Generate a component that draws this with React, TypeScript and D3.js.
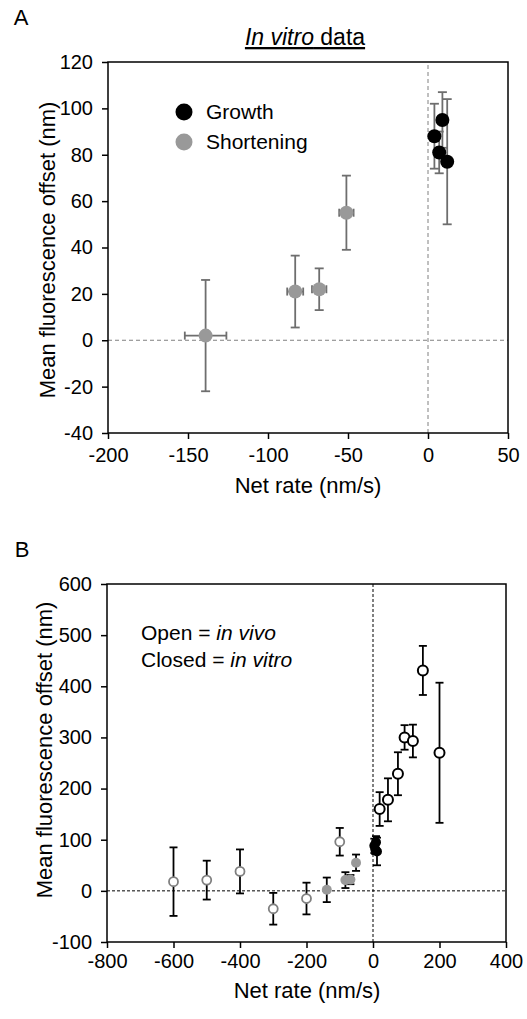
import React, { useRef, useEffect } from 'react';
import * as d3 from 'd3';

// in vitro, growth (closed black)
const GROWTH_RATE = [4, 9, 7, 12];
const GROWTH_OFFSET = [88, 95, 81, 77];
const GROWTH_ERR = [14, 12, 9, 27];

// in vitro, shortening (closed grey)
const SHORT_RATE = [-139, -83, -68, -51];
const SHORT_OFFSET = [2, 21, 22, 55];
const SHORT_ERR = [24, 15.5, 9, 16];
const SHORT_RATE_ERR = [13, 5, 4.5, 4.5];

// in vivo (open circles)
const VIVO_SHORT_RATE = [-600, -500, -400, -300, -200, -100];
const VIVO_SHORT_OFFSET = [18, 21, 38, -35, -15, 96];
const VIVO_SHORT_ERR = [67, 38, 43, 31, 31, 27];
const VIVO_GROWTH_RATE = [20, 45, 75, 95, 120, 150, 200];
const VIVO_GROWTH_OFFSET = [160, 178, 229, 300, 293, 431, 270];
const VIVO_GROWTH_ERR = [33, 42, 42, 24, 32, 48, 137];

const A_X_TICKS = [-200, -150, -100, -50, 0, 50];
const A_Y_TICKS = [-40, -20, 0, 20, 40, 60, 80, 100, 120];
const B_X_TICKS = [-800, -600, -400, -200, 0, 200, 400];
const B_Y_TICKS = [-100, 0, 100, 200, 300, 400, 500, 600];

const FONT = "'Liberation Sans', Arial, sans-serif";
const GREY_DOT = '#999999';
const GREY_BAR = '#6e6e6e';

const App = () => {
    const svgRef = useRef(null);

    useEffect(() => {
        const svg = d3.select(svgRef.current);
        svg.selectAll('*').remove();

        const drawFrame = (g, x, y, xTicks, yTicks, dashColor, dash, xPad) => {
            const [x0, x1] = x.range();
            const [y0, y1] = y.range();

            // zero lines
            g.append('line')
                .attr('x1', x0).attr('x2', x1)
                .attr('y1', y(0)).attr('y2', y(0))
                .attr('stroke', dashColor).attr('stroke-width', 1)
                .attr('stroke-dasharray', dash);
            g.append('line')
                .attr('x1', x(0)).attr('x2', x(0))
                .attr('y1', y0).attr('y2', y1)
                .attr('stroke', dashColor).attr('stroke-width', 1)
                .attr('stroke-dasharray', dash);

            // plain hyphen for negatives, like the original
            const fmt = d => String(d);
            const xAxis = g.append('g')
                .attr('transform', `translate(0,${y0})`)
                .call(d3.axisBottom(x).tickValues(xTicks).tickFormat(fmt).tickSize(6).tickPadding(xPad).tickSizeOuter(0));
            const yAxis = g.append('g')
                .attr('transform', `translate(${x0},0)`)
                .call(d3.axisLeft(y).tickValues(yTicks).tickFormat(fmt).tickSize(6).tickPadding(9).tickSizeOuter(0));

            [xAxis, yAxis].forEach(ax => {
                ax.select('.domain').remove();
                ax.attr('font-family', FONT).attr('font-size', 20);
                ax.selectAll('line').attr('stroke', '#000').attr('stroke-width', 1.5);
                ax.selectAll('text').attr('fill', '#000');
            });

            g.append('rect')
                .attr('x', x0).attr('y', y1)
                .attr('width', x1 - x0).attr('height', y0 - y1)
                .attr('fill', 'none').attr('stroke', '#000').attr('stroke-width', 1.5);
        };

        const drawErrY = (g, x, y, rates, vals, errs, color, cap) => {
            rates.forEach((r, i) => {
                const cx = x(r);
                const top = y(vals[i] + errs[i]);
                const bot = y(vals[i] - errs[i]);
                g.append('line').attr('x1', cx).attr('x2', cx).attr('y1', top).attr('y2', bot)
                    .attr('stroke', color).attr('stroke-width', 1.8);
                [top, bot].forEach(yy => {
                    g.append('line').attr('x1', cx - cap).attr('x2', cx + cap).attr('y1', yy).attr('y2', yy)
                        .attr('stroke', color).attr('stroke-width', 1.8);
                });
            });
        };

        const drawErrX = (g, x, y, rates, vals, errs, color, cap) => {
            rates.forEach((r, i) => {
                const cy = y(vals[i]);
                const l = x(r - errs[i]);
                const rr = x(r + errs[i]);
                g.append('line').attr('x1', l).attr('x2', rr).attr('y1', cy).attr('y2', cy)
                    .attr('stroke', color).attr('stroke-width', 1.8);
                [l, rr].forEach(xx => {
                    g.append('line').attr('x1', xx).attr('x2', xx).attr('y1', cy - cap).attr('y2', cy + cap)
                        .attr('stroke', color).attr('stroke-width', 1.8);
                });
            });
        };

        const drawDots = (g, x, y, rates, vals, r, fill, stroke, sw) => {
            g.selectAll(null)
                .data(rates.map((d, i) => [d, vals[i]]))
                .enter().append('circle')
                .attr('cx', d => x(d[0]))
                .attr('cy', d => y(d[1]))
                .attr('r', r)
                .attr('fill', fill)
                .attr('stroke', stroke)
                .attr('stroke-width', sw);
        };

        const label = (txt, x, y, size, rotate = false) => {
            const t = svg.append('text')
                .attr('font-family', FONT).attr('font-size', size)
                .attr('text-anchor', 'middle')
                .text(txt);
            if (rotate) t.attr('transform', `translate(${x},${y}) rotate(-90)`);
            else t.attr('x', x).attr('y', y);
            return t;
        };

        // ---------- Panel A ----------
        const xA = d3.scaleLinear().domain([-200, 50]).range([108, 508]);
        const yA = d3.scaleLinear().domain([-40, 120]).range([433, 62]);
        const gA = svg.append('g');
        drawFrame(gA, xA, yA, A_X_TICKS, A_Y_TICKS, '#808080', '4,3', 9);

        drawErrY(gA, xA, yA, SHORT_RATE, SHORT_OFFSET, SHORT_ERR, GREY_BAR, 4.5);
        drawErrX(gA, xA, yA, SHORT_RATE, SHORT_OFFSET, SHORT_RATE_ERR, GREY_BAR, 4);
        drawErrY(gA, xA, yA, GROWTH_RATE, GROWTH_OFFSET, GROWTH_ERR, GREY_BAR, 4.5);
        drawDots(gA, xA, yA, SHORT_RATE, SHORT_OFFSET, 7, GREY_DOT, 'none', 0);
        drawDots(gA, xA, yA, GROWTH_RATE, GROWTH_OFFSET, 7, '#000', 'none', 0);

        // legend
        gA.append('circle').attr('cx', 184).attr('cy', 112).attr('r', 8.5).attr('fill', '#000');
        gA.append('circle').attr('cx', 184).attr('cy', 142).attr('r', 8.5).attr('fill', GREY_DOT);
        gA.append('text').attr('x', 206).attr('y', 119).attr('font-family', FONT).attr('font-size', 21).text('Growth');
        gA.append('text').attr('x', 206).attr('y', 149).attr('font-family', FONT).attr('font-size', 21).text('Shortening');

        const title = svg.append('text')
            .attr('x', 305).attr('y', 45)
            .attr('font-family', FONT).attr('font-size', 23)
            .attr('text-anchor', 'middle')
            .attr('text-decoration', 'underline');
        title.append('tspan').attr('font-style', 'italic').text('In vitro');
        title.append('tspan').text(' data');

        label('A', 21, 25, 22);
        label('Net rate (nm/s)', 308, 493, 22);
        label('Mean fluorescence offset (nm)', 55, 250, 22, true);

        // ---------- Panel B ----------
        const xB = d3.scaleLinear().domain([-800, 400]).range([107, 506]);
        const yB = d3.scaleLinear().domain([-100, 600]).range([942, 584]);
        const gB = svg.append('g');
        drawFrame(gB, xB, yB, B_X_TICKS, B_Y_TICKS, '#000', '3,2', 6);

        drawErrY(gB, xB, yB, VIVO_SHORT_RATE, VIVO_SHORT_OFFSET, VIVO_SHORT_ERR, '#000', 4);
        drawErrY(gB, xB, yB, VIVO_GROWTH_RATE, VIVO_GROWTH_OFFSET, VIVO_GROWTH_ERR, '#000', 4);
        drawErrY(gB, xB, yB, SHORT_RATE, SHORT_OFFSET, SHORT_ERR, '#000', 4);
        drawErrY(gB, xB, yB, GROWTH_RATE, GROWTH_OFFSET, GROWTH_ERR, '#000', 4);
        drawDots(gB, xB, yB, VIVO_SHORT_RATE, VIVO_SHORT_OFFSET, 4.5, '#fff', '#808080', 1.8);
        drawDots(gB, xB, yB, VIVO_GROWTH_RATE, VIVO_GROWTH_OFFSET, 5, '#fff', '#000', 2);
        drawDots(gB, xB, yB, SHORT_RATE, SHORT_OFFSET, 5, GREY_DOT, 'none', 0);
        drawDots(gB, xB, yB, GROWTH_RATE, GROWTH_OFFSET, 5, '#000', 'none', 0);

        const note1 = gB.append('text').attr('x', 141).attr('y', 640).attr('font-family', FONT).attr('font-size', 21);
        note1.append('tspan').text('Open = ');
        note1.append('tspan').attr('font-style', 'italic').text('in vivo');
        const note2 = gB.append('text').attr('x', 141).attr('y', 667).attr('font-family', FONT).attr('font-size', 21);
        note2.append('tspan').text('Closed = ');
        note2.append('tspan').attr('font-style', 'italic').text('in vitro');

        label('B', 22, 557, 22);
        label('Net rate (nm/s)', 307, 998, 22);
        label('Mean fluorescence offset (nm)', 52, 750, 22, true);
    }, []);

    return (
        <svg
            ref={svgRef}
            width={527}
            height={1019}
            style={{ position: 'absolute', left: 0, top: 0, background: '#fff' }}
        />
    );
};

export default App;
